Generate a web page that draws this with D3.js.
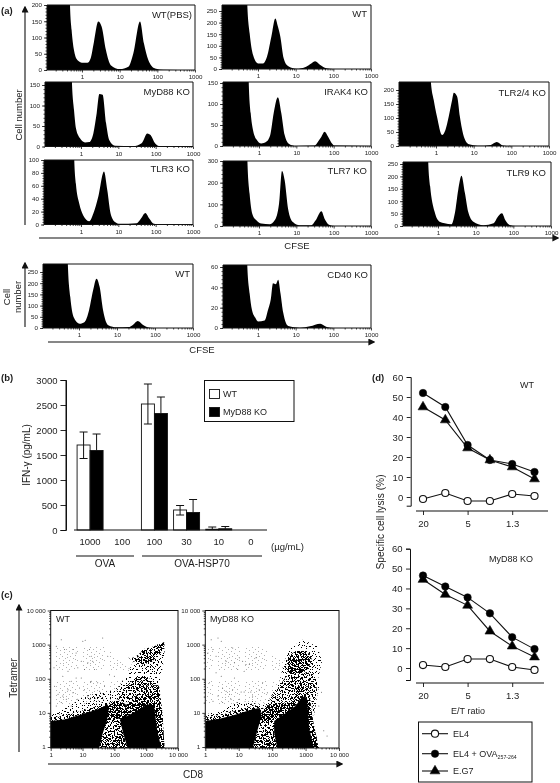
<!DOCTYPE html>
<html><head><meta charset="utf-8">
<script src="https://cdn.jsdelivr.net/npm/d3@7"></script>
<style>html,body{margin:0;padding:0;background:#fff}svg{display:block;filter:blur(0.3px)}text{font-family:"Liberation Sans",Arial,sans-serif;fill:#1c1c1c}</style>
</head><body><div id="c"></div>
<script>
// ---------- DATA: (a) CFSE histograms, [CFSE, cell count]
const histWTPBS=[[0.1,5000],[0.45,400],[0.48,200],[0.53,123],[0.61,62],[0.75,31],[1.08,22],[1.39,22],[1.7,36],[2.08,87],[2.7,149],[3.33,133],[4.3,62],[5.8,15],[10.2,3],[17,10],[23,51],[34.7,149],[44,82],[57.6,31],[87,5],[145,1],[1000,0]];
const histMyD88=[[0.1,5000],[0.53,300],[0.57,160],[0.65,89],[0.73,45],[0.94,20],[1.28,10],[1.67,11],[2.14,32],[2.63,81],[3.1,128],[3.8,126],[4.7,57],[5.7,16],[8.1,2],[25,1],[42,8],[60,32],[73,28],[96,8],[130,1],[1000,0]];
const histTLR3=[[0.1,5000],[0.62,200],[0.66,100],[0.73,63],[0.9,32],[1.15,14],[1.67,5],[2.14,17],[2.9,43],[4.13,82],[5.07,53],[6.2,17],[8.1,4],[11,1],[31,2],[40,9],[53,18],[68,9],[90,1],[130,0],[1000,0]];
const histWT=[[0.1,9000],[0.48,500],[0.52,276],[0.6,154],[0.74,60],[1,24],[1.36,24],[1.73,53],[2.26,139],[2.88,218],[3.39,182],[3.92,139],[4.8,46],[6.25,13],[10.4,1],[19,10],[26,24],[33,33],[45,17],[65,3],[98,0],[1000,0]];
const histIRAK4=[[0.1,5000],[0.5,300],[0.53,154],[0.6,78],[0.69,38],[0.85,16],[1.15,6],[1.57,10],[2,26],[2.47,78],[3.2,116],[3.96,78],[4.87,26],[6.4,5],[10,0],[31,1],[38,10],[47,22],[57,34],[71,22],[87,8],[107,1],[1000,0]];
const histTLR7=[[0.1,9000],[0.45,600],[0.49,296],[0.56,149],[0.66,57],[0.85,26],[1.15,11],[1.93,8],[2.63,26],[3.44,103],[4.13,254],[4.87,211],[6,80],[8.1,18],[12.3,3],[25,3],[33,26],[47,68],[57,34],[75,6],[107,0],[1000,0]];
const histTLR24=[[0.1,9000],[0.65,400],[0.73,230],[0.87,164],[1.06,105],[1.45,39],[1.78,57],[2.18,105],[2.68,164],[2.97,190],[3.65,176],[4.3,105],[5.5,33],[7.5,6],[12.6,1],[28.5,4],[41,14],[59,2],[98,0],[1000,0]];
const histTLR9=[[0.1,9000],[0.5,500],[0.55,259],[0.62,159],[0.81,58],[1.1,17],[1.5,11],[2.28,7],[2.8,51],[3.44,145],[4.2,203],[5.2,132],[6.3,58],[8.7,17],[16,3],[30,11],[38,35],[50,51],[61,24],[80,4],[113,0],[1000,0]];
const histWT2=[[0.1,9000],[0.47,500],[0.51,280],[0.59,138],[0.72,49],[1.04,19],[1.41,27],[1.84,79],[2.35,168],[2.88,220],[3.5,183],[4.3,79],[5.9,12],[9.8,3],[20,4],[27,16],[35,31],[50,12],[75,1],[113,0],[1000,0]];
const histCD40=[[0.1,2000],[0.48,100],[0.52,61],[0.6,34],[0.69,18],[0.85,10],[1,6.5],[1.5,7.5],[1.85,18],[2.18,28],[2.5,44],[2.97,43],[3.44,47.5],[3.96,34],[4.68,15],[6.36,2],[13,0.3],[24,1.6],[45,4.3],[67,1],[102,0],[1000,0]];
const cfseTicks=[1,10,100,1000];

// ---------- DATA: (b) IFN-gamma bars
const doseLabels=["1000","100","100","30","10","0"];
const barSeries=["WT","MyD88 KO"];
const ifnWT=[1700,0,2520,400,15,0];
const ifnKO=[1590,0,2330,350,25,0];
const ifnWTUpper=[1960,null,2920,490,60,null];
const ifnWTLower=[1430,null,2120,300,null,null];
const ifnKOUpper=[1920,null,2660,610,70,null];
const ifnTicks=[0,500,1000,1500,2000,2500,3000];

// ---------- DATA: (c) tetramer / CD8 dot plots: density outlines [CD8, tetramer], and single dots
const dotWTSolid=[[[1,.9],[1,5.8],[2.7,6.4],[9.1,9],[30,12.7],[62,17.6],[66,12],[59,6],[43,2.5],[33,.9]],
 [[262,.9],[182,2.9],[150,6.4],[422,10.5],[1100,18],[1780,16],[2200,3.3],[3000,.9]]];
const dotWTDense=[[[150,6.4],[262,19.8],[537,34.7],[1230,68],[2560,60],[3240,10],[3800,.9],[2560,.9],[1780,12.7],[1100,15.9],[422,9]],
 [[270,410],[537,410],[767,717],[1780,895],[3650,1170],[3800,795],[2560,510],[1400,292],[680,261]],
 [[59,8],[70,19.8],[232,17.6],[182,6.4]]];
const dotWTMid=[[30,.9],[43,3.3],[59,8],[70,19.8],[126,24.7],[232,17.6],[182,6.4],[182,2.9],[262,.9]];
const dotWTMedium=[[[1,4],[1,7.5],[2.7,8],[9.1,11.5],[30,16],[62,22],[72,14],[59,8],[30,10],[9,6],[2.7,5]],
 [[126,24.7],[232,60],[537,120],[1000,120],[2560,60],[1230,68],[537,34.7],[262,19.8]]];
const dotWTLight=[[[62,17.6],[143,60],[295,186],[478,457],[767,645],[2880,1120],[3800,1000],[3650,365],[2560,60],[1230,68],[537,34.7],[262,19.8],[232,17.6],[126,24.7]],
 [[1,5.8],[1,10],[1.7,10],[3.5,15.9],[11.5,31],[38,39],[100,48.5],[143,60],[62,17.6],[30,12.7],[9.1,9],[2.7,6.4]]];
const dotWTFaint=[[[1,5.8],[1,1800],[40,1700],[90,500],[300,190],[143,60],[62,17.6]]];
const dotWTSingle=[[1.5,895],[2.15,1400],[2.7,717],[5,717],[6.3,570],[10.2,1250],[12.1,1340],[43,1570],[16.5,717],[18.7,457],[9.1,325],[14.7,292],[21,325],[2.4,119],[3.5,167],[7.1,209],[11.5,186],[18.7,85],[18,79],[4.4,85],[6.3,106],[9.1,106],[1.7,35],[2.4,31],[3.5,48],[5,39],[8,54],[14.7,31],[16.5,25],[30,76],[49,60],[70,132],[100,119],[62,457],[1.27,209],[2.15,20],[3.1,25],[1.5,16],[7.1,25],[11.5,48],[23.7,186],[34,43],[43,28],[4.4,16],[1.9,9],[1.33,60]];
const dotKOSolid=[[[1,.9],[1,5.8],[2.67,6.7],[8.3,9],[26,12.7],[43,14],[48,8],[36,3],[26,.9]],
 [[144,.9],[115,2.6],[115,5.8],[255,10],[500,16],[800,30],[1100,28],[1300,3.3],[1800,.9]]];
const dotKODense=[[[41,8],[65,16],[161,17.6],[318,22],[566,60],[1260,60],[1580,8],[2490,.9],[1580,.9],[1260,3.3],[1000,20],[633,20],[255,9],[129,5.8],[43,5.8]],
 [[255,186],[305,457],[506,645],[1000,645],[1580,457],[1260,209],[710,132],[358,132]]];
const dotKOMid=[[26,.9],[36,3.3],[43,5.8],[129,5.8],[115,2.6],[144,.9]];
const dotKOMedium=[[[1,4],[1,7.2],[2.67,8.5],[8.3,11.5],[26,16],[43,18],[60,12],[43,8],[26,10],[8.3,6],[2.67,5]],
 [[65,16],[161,60],[300,140],[566,150],[1580,150],[2500,60],[1770,8],[1260,60],[566,60],[318,22],[161,17.6]]];
const dotKOLight=[[[43,14],[81,24.7],[161,76],[227,292],[318,717],[795,1400],[2220,895],[3125,325],[2220,76],[1770,8],[1260,60],[566,60],[318,22],[161,17.6],[65,16]],
 [[1,5.8],[1,9],[2.67,11.3],[8.3,20],[26,22],[43,14],[26,12.7],[8.3,9],[2.67,6.7]]];
const dotKOFaint=[[[1,5.8],[1,1800],[30,1500],[100,500],[230,300],[161,76],[43,14]]];
const dotKOSingle=[[1.5,1400],[2.4,1570],[3,1250],[6.6,795],[1.2,570],[1.7,717],[2.1,457],[4.2,325],[7.4,292],[10.4,410],[13.1,325],[16.5,260],[14.5,167],[9.3,186],[7.4,106],[3.3,54],[4.2,43],[5.3,35],[5.9,25],[11.8,41],[14.5,41],[23,41],[26,31],[41,48],[1.7,22],[2.4,31],[3.3,20],[6.6,48],[72,39],[33,410],[20.7,260],[2.1,149],[1.33,76],[3,119],[10.4,25],[52,76],[2490,16],[3500,3],[4400,2.1],[3000,40]];
const cd8Ticks=[1,10,100,1000,10000];

// ---------- DATA: (d) specific lysis
const etRatios=["20","","5","","1.3",""];
const lysisSeries=["EL4","EL4 + OVA","E.G7"];
const wtEL4=[-1,2,-2,-2,1.5,0.5];
const wtOVA=[52,45,26,18.5,16.5,12.5];
const wtEG7=[45,38.5,24.5,18.5,15,9];
const koEL4=[1.5,0.5,4.5,4.5,0.5,-1];
const koOVA=[46.5,41,35.5,27.5,15.5,9.5];
const koEG7=[44.5,37,31.5,18.5,11,5.5];
const lysisTicks=[0,10,20,30,40,50,60];

// ---------- LAYOUT
const histPanels=[
 {label:"WT(PBS)",data:histWTPBS,l:47,r:195,t:5,b:70,x1:82,tick:[0,50,100,150,200],topPx:5,lx:192,ly:14},
 {label:"MyD88 KO",data:histMyD88,l:45,r:193,t:82,b:146.5,x1:81,tick:[0,50,100,150],topPx:85,lx:190,ly:91},
 {label:"TLR3 KO",data:histTLR3,l:44,r:193,t:160,b:224.5,x1:81,tick:[0,20,40,60,80,100],topPx:160,lx:190,ly:168},
 {label:"WT",data:histWT,l:222,r:371,t:5,b:69,x1:258,tick:[0,50,100,150,200,250],topPx:11,lx:367,ly:13},
 {label:"IRAK4 KO",data:histIRAK4,l:223,r:371,t:82,b:146,x1:259,tick:[0,50,100,150],topPx:83,lx:368,ly:91},
 {label:"TLR7 KO",data:histTLR7,l:223,r:371,t:161,b:226,x1:259,tick:[0,100,200,300],topPx:161,lx:367,ly:170},
 {label:"TLR2/4 KO",data:histTLR24,l:399,r:549,t:82,b:146,x1:436,tick:[0,50,100,150,200],topPx:90,lx:546,ly:92},
 {label:"TLR9 KO",data:histTLR9,l:403,r:551,t:162,b:226,x1:438,tick:[0,50,100,150,200,250],topPx:164,lx:546,ly:172},
 {label:"WT",data:histWT2,l:43,r:193,t:264,b:328,x1:79,tick:[0,50,100,150,200,250],topPx:272,lx:190,ly:273},
 {label:"CD40 KO",data:histCD40,l:223,r:371,t:265,b:328,x1:258,tick:[0,20,40,60],topPx:267,lx:368,ly:274}
];
const INK="#111";
const svg=d3.select("#c").append("svg").attr("width",560).attr("height",783).attr("viewBox","0 0 560 783");
svg.append("rect").attr("width",560).attr("height",783).attr("fill","#fff");
const defs=svg.append("defs");
defs.append("marker").attr("id","arrow").attr("viewBox","0 0 10 10").attr("refX",8).attr("refY",5)
 .attr("markerUnits","userSpaceOnUse").attr("markerWidth",7).attr("markerHeight",7).attr("orient","auto")
 .append("path").attr("d","M0,0L10,5L0,10Z").attr("fill",INK);

function txt(x,y,s,o={}){
 const t=svg.append("text").attr("x",x).attr("y",y).attr("dominant-baseline","central")
  .attr("font-size",o.fs||9.5).attr("text-anchor",o.a||"middle").text(s);
 if(o.bold)t.attr("font-weight","bold");
 if(o.rot)t.attr("transform",`rotate(-90 ${x} ${y})`);
 return t;
}
function arrow(x1,y1,x2,y2){svg.append("line").attr("x1",x1).attr("y1",y1).attr("x2",x2).attr("y2",y2)
 .attr("stroke",INK).attr("stroke-width",1.1).attr("marker-end","url(#arrow)");}
function hline(x1,x2,y,w=1.1){svg.append("line").attr("x1",x1).attr("x2",x2).attr("y1",y).attr("y2",y).attr("stroke",INK).attr("stroke-width",w);}
function styleAxis(g,fs){g.selectAll("path.domain").remove();g.selectAll("line").attr("stroke",INK).attr("stroke-width",.8);
 g.selectAll("text").attr("font-size",fs).attr("font-family",null).attr("fill","#1c1c1c");}

// ---------- (a) histograms
const logMinor=[.2,.3,.4,.5,.6,.7,.8,.9,2,3,4,5,6,7,8,9,20,30,40,50,60,70,80,90,200,300,400,500,600,700,800,900];
histPanels.forEach((p,i)=>{
 const maxTick=p.tick[p.tick.length-1];
 const x=d3.scaleLog().domain([1,1000]).range([p.x1,p.r]);
 const y=d3.scaleLinear().domain([0,maxTick]).range([p.b,p.topPx]);
 const id="hc"+i;
 defs.append("clipPath").attr("id",id).append("rect").attr("x",p.l).attr("y",p.t).attr("width",p.r-p.l).attr("height",p.b-p.t);
 const area=d3.area().x(d=>x(d[0])).y0(y(0)).y1(d=>y(d[1])).curve(d3.curveMonotoneX);
 svg.append("path").datum(p.data).attr("d",area).attr("fill","#000").attr("clip-path",`url(#${id})`);
 svg.append("path").attr("d",`M${p.l},${p.b}V${p.t}H${p.r}V${p.b}`).attr("fill","none").attr("stroke",INK).attr("stroke-width",1);
 hline(p.l,p.r,p.b,1);
 const gx=svg.append("g").attr("transform",`translate(0,${p.b})`)
  .call(d3.axisBottom(x).tickValues(cfseTicks).tickSize(2.5).tickPadding(2.5).tickFormat(d3.format("d")));
 styleAxis(gx,6.2);
 const gm=svg.append("g").attr("transform",`translate(0,${p.b})`)
  .call(d3.axisBottom(x).tickValues(logMinor.filter(v=>x(v)>p.l)).tickSize(1.5).tickFormat(""));
 styleAxis(gm,6.2);
 const gy=svg.append("g").attr("transform",`translate(${p.l},0)`)
  .call(d3.axisLeft(y).tickValues(p.tick).tickSize(3).tickPadding(2).tickFormat(d3.format("d")));
 styleAxis(gy,6.2);
 const step=(p.tick[1]-p.tick[0])/5;
 const gy2=svg.append("g").attr("transform",`translate(${p.l},0)`)
  .call(d3.axisLeft(y).tickValues(d3.range(0,maxTick+step/2,step)).tickSize(1.5).tickFormat(""));
 styleAxis(gy2,6.2);
 txt(p.lx,p.ly,p.label,{a:"end",fs:9.5});
});
txt(1,10,"(a)",{a:"start",bold:true,fs:9.5});
arrow(25,225,25,7);
txt(18,115,"Cell number",{rot:true,fs:9.5});
arrow(39,238,558,238);
txt(297,245.5,"CFSE",{fs:9.5});
arrow(25,327,25,263);
txt(6,297,"Cell",{rot:true,fs:9.5});
txt(17,297,"number",{rot:true,fs:9.5});
arrow(48,342,374,342);
txt(202,349.5,"CFSE",{fs:9.5});

// ---------- (b) bars
txt(1,377,"(b)",{a:"start",bold:true,fs:9.5});
const yB=d3.scaleLinear().domain([0,3000]).range([530,380]);
const x0=d3.scaleBand().domain(d3.range(doseLabels.length)).range([74,267]);
const x1=d3.scaleBand().domain(barSeries).range([x0.bandwidth()/2-13,x0.bandwidth()/2+13]);
const seriesVals={"WT":ifnWT,"MyD88 KO":ifnKO};
barSeries.forEach(s=>{
 svg.append("g").selectAll("rect").data(seriesVals[s]).join("rect")
  .attr("x",(d,i)=>x0(i)+x1(s)).attr("width",x1.bandwidth())
  .attr("y",d=>yB(d)).attr("height",d=>yB(0)-yB(d))
  .attr("fill",s==="WT"?"#fff":"#000").attr("stroke",d=>d>0?INK:"none").attr("stroke-width",.9);
});
function errBar(vals,from,s){
 vals.forEach((v,i)=>{ if(v==null)return;
  const cx=x0(i)+x1(s)+x1.bandwidth()/2;
  svg.append("line").attr("x1",cx).attr("x2",cx).attr("y1",yB(from[i])).attr("y2",yB(v)).attr("stroke",INK).attr("stroke-width",1);
  svg.append("line").attr("x1",cx-4).attr("x2",cx+4).attr("y1",yB(v)).attr("y2",yB(v)).attr("stroke",INK).attr("stroke-width",1);
 });
}
errBar(ifnWTUpper,ifnWT,"WT");errBar(ifnWTLower,ifnWT,"WT");errBar(ifnKOUpper,ifnKO,"MyD88 KO");
const gyB=svg.append("g").attr("transform","translate(66,0)").call(d3.axisLeft(yB).tickValues(ifnTicks).tickSize(5.5).tickPadding(3));
gyB.call(g=>g.selectAll("text").text(d=>d));
gyB.selectAll("path.domain").attr("stroke",INK);
gyB.selectAll("line").attr("stroke",INK).attr("stroke-width",.9);
gyB.selectAll("text").attr("font-size",9.5).attr("font-family",null);
svg.append("line").attr("x1",66).attr("x2",66).attr("y1",380).attr("y2",530).attr("stroke",INK).attr("stroke-width",1);
hline(74,267,530,1);
const gxB=svg.append("g").attr("transform","translate(0,530)")
 .call(d3.axisBottom(x0).tickSize(0).tickPadding(8).tickFormat(i=>doseLabels[i]));
gxB.selectAll("path.domain").remove();
gxB.selectAll("text").attr("font-size",9.5).attr("font-family",null);
txt(271,546,"(µg/mL)",{a:"start",fs:9.5});
hline(76,134,556);hline(142,262,556);
txt(105,563.5,"OVA",{fs:10});txt(202,563.5,"OVA-HSP70",{fs:10});
txt(26,455,"IFN-γ (pg/mL)",{rot:true,fs:10});
svg.append("rect").attr("x",204.5).attr("y",380.5).attr("width",89.5).attr("height",41).attr("fill","#fff").attr("stroke",INK).attr("stroke-width",1);
barSeries.forEach((s,i)=>{
 svg.append("rect").attr("x",209.5).attr("y",389.5+18*i).attr("width",10).attr("height",9)
  .attr("fill",i?"#000":"#fff").attr("stroke",INK).attr("stroke-width",.9);
 txt(223,394+18*i,s,{a:"start",fs:9});
});

// ---------- (c) dot plots
txt(1,594,"(c)",{a:"start",bold:true,fs:9.5});
// stipple textures (style only): one hand-placed tile, repeated at unrelated periods and mirrored so that layers do not line up
const tileDots=[[1,2],[5,1],[9,3],[14,1],[19,2],[22,4],[3,5],[7,6],[12,5],[16,6],[20,7],[1,9],[5,9],[10,8],[14,9],[18,10],[23,9],[3,12],[8,11],[12,13],[16,12],[21,12],[1,15],[6,14],[10,16],[14,15],[19,15],[23,16],[4,18],[8,18],[12,19],[17,18],[21,19],[2,21],[6,22],[10,22],[15,22],[19,22],[23,21],[13,3],[11,11],[17,15]];
const tilePeriods=[[25,26],[27,25],[29,31],[31,26],[26,33],[33,29],[35,27],[37,31],[28,35],[39,29],[32,37],[41,27],[30,39],[43,33],[34,41],[38,43],[26,29],[29,27],[31,35],[35,31],[27,34],[34,28],[25,30],[30,25],[28,32],[32,28]];
const tileVariant=[d=>d,d=>[d[1],d[0]],d=>[24-d[0],d[1]],d=>[d[0],24-d[1]],d=>[24-d[1],d[0]],d=>[d[1],24-d[0]],d=>[24-d[0],24-d[1]],d=>[24-d[1],24-d[0]]];
tilePeriods.forEach((pd,i)=>{
 const pat=defs.append("pattern").attr("id","st"+i).attr("width",pd[0]).attr("height",pd[1]).attr("patternUnits","userSpaceOnUse");
 pat.selectAll("rect").data(tileDots.map(tileVariant[i%tileVariant.length])).join("rect")
  .attr("x",d=>d[0]).attr("y",d=>d[1]).attr("width",1).attr("height",1).attr("fill","#000");
});
const dotPanels=[
 {label:"WT",solid:dotWTSolid,dense:dotWTDense,mid:dotWTMid,medium:dotWTMedium,light:dotWTLight,faint:dotWTFaint,single:dotWTSingle,x1:50.7,x4:178,lx:56},
 {label:"MyD88 KO",solid:dotKOSolid,dense:dotKODense,mid:dotKOMid,medium:dotKOMedium,light:dotKOLight,faint:dotKOFaint,single:dotKOSingle,x1:205.3,x4:339,lx:210}
];
dotPanels.forEach((p,i)=>{
 const x=d3.scaleLog().domain([1,10000]).range([p.x1,p.x4]);
 const y=d3.scaleLog().domain([1,10000]).range([747,610.5]);
 const id="dc"+i;
 defs.append("clipPath").attr("id",id).append("rect").attr("x",p.x1).attr("y",610.5).attr("width",p.x4-p.x1).attr("height",137.5);
 const g=svg.append("g").attr("clip-path",`url(#${id})`);
 const line=d3.line().x(d=>x(d[0])).y(d=>y(d[1])).curve(d3.curveLinearClosed);
 const paint=(polys,from,n,op=1)=>polys.forEach(poly=>{for(let k=from;k<from+n;k++)g.append("path").datum(poly).attr("d",line).attr("fill",`url(#st${k%tilePeriods.length})`).attr("opacity",op);});
 paint(p.faint,20,1,.3);
 paint(p.light,0,3);paint(p.medium,4,8);paint([p.mid],4,16);paint(p.dense,0,20);
 p.solid.forEach(poly=>g.append("path").datum(poly).attr("d",line).attr("fill","#000"));
 g.selectAll("circle").data(p.single).join("circle").attr("cx",d=>x(d[0])).attr("cy",d=>y(d[1])).attr("r",.5).attr("fill","#555");
 svg.append("rect").attr("x",p.x1).attr("y",610.5).attr("width",p.x4-p.x1).attr("height",137.5).attr("fill","none").attr("stroke",INK).attr("stroke-width",1);
 const fmt=v=>v===10000?"10 000":String(v);
 const majorMinor=d3.merge(d3.range(0,4).map(e=>[2,3,4,5,6,7,8,9].map(m=>m*Math.pow(10,e))));
 const ax=svg.append("g").attr("transform","translate(0,748)").call(d3.axisBottom(x).tickValues(cd8Ticks).tickSize(3).tickPadding(2).tickFormat(fmt));
 styleAxis(ax,6.2);
 styleAxis(svg.append("g").attr("transform","translate(0,748)").call(d3.axisBottom(x).tickValues(majorMinor).tickSize(1.5).tickFormat("")),6);
 const ay=svg.append("g").attr("transform",`translate(${p.x1},0)`).call(d3.axisLeft(y).tickValues(cd8Ticks).tickSize(3).tickPadding(2).tickFormat(fmt));
 styleAxis(ay,6.2);
 styleAxis(svg.append("g").attr("transform",`translate(${p.x1},0)`).call(d3.axisLeft(y).tickValues(majorMinor).tickSize(1.5).tickFormat("")),6);
 txt(p.lx,618.5,p.label,{a:"start",fs:9});
});
arrow(19,752,19,605);
txt(13,678,"Tetramer",{rot:true,fs:10});
arrow(48,764,342,764);
txt(193,774,"CD8",{fs:10});

// ---------- (d) lysis
txt(372,377,"(d)",{a:"start",bold:true,fs:9.5});
txt(380.5,522,"Specific cell lysis (%)",{rot:true,fs:10.2});
const lysisPanels=[
 {label:"WT",lx:527,ly:385,series:[wtEL4,wtOVA,wtEG7],y0:497,y60:377,yEnd:505.7,xAxisY:511,xEnd:548,axX:410.7},
 {label:"MyD88 KO",lx:511,ly:559,series:[koEL4,koOVA,koEG7],y0:668,y60:548.7,yEnd:680,xAxisY:683,xEnd:544,axX:410}
];
function marker(sel,k){
 if(k===2)sel.attr("d",d3.symbol(d3.symbolTriangle,42)()).attr("fill","#000").attr("stroke",INK).attr("stroke-width",.6);
 else sel.attr("d",d3.symbol(d3.symbolCircle,k?44:40)()).attr("fill",k?"#000":"#fff").attr("stroke",INK).attr("stroke-width",k?.5:1.1);
}
lysisPanels.forEach(p=>{
 const x=d3.scalePoint().domain(d3.range(etRatios.length)).range([423,534.5]);
 const y=d3.scaleLinear().domain([0,60]).range([p.y0,p.y60]);
 const yv=d3.scaleLinear().domain([y.invert(p.yEnd),60]).range([p.yEnd,p.y60]);
 const gy=svg.append("g").attr("transform",`translate(${p.axX},0)`).call(d3.axisLeft(yv).tickValues(lysisTicks).tickSize(4).tickPadding(3.5));
 gy.selectAll("path.domain").attr("stroke",INK).attr("stroke-width",1);
 gy.selectAll("line").attr("stroke",INK).attr("stroke-width",.9);
 gy.selectAll("text").attr("font-size",9.5).attr("font-family",null);
 hline(416,p.xEnd,p.xAxisY,1.1);
 const gx=svg.append("g").attr("transform",`translate(0,${p.xAxisY})`)
  .call(d3.axisBottom(x).tickValues([0,2,4]).tickSize(4).tickPadding(5).tickFormat(i=>etRatios[i]));
 gx.selectAll("path.domain").remove();
 gx.selectAll("line").attr("stroke",INK).attr("stroke-width",.9);
 gx.selectAll("text").attr("font-size",9.5).attr("font-family",null);
 const ln=d3.line().x((d,i)=>x(i)).y(d=>y(d));
 [1,2,0].forEach(k=>{
  svg.append("path").datum(p.series[k]).attr("d",ln).attr("fill","none").attr("stroke",INK).attr("stroke-width",1.1);
 });
 [1,2,0].forEach(k=>{
  svg.append("g").selectAll("path").data(p.series[k]).join("path")
   .attr("transform",(d,i)=>`translate(${x(i)},${y(d)})`).call(marker,k);
 });
 txt(p.lx,p.ly,p.label,{fs:9});
});
txt(468,711,"E/T ratio",{fs:9});
svg.append("rect").attr("x",418.5).attr("y",722).attr("width",113.5).attr("height",60).attr("fill","#fff").attr("stroke",INK).attr("stroke-width",1);
[733.7,753.7,771].forEach((ly,k)=>{
 hline(422,448,ly,1.1);
 svg.append("path").attr("transform",`translate(435,${ly})`).call(marker,k);
 const t=txt(453,ly,lysisSeries[k],{a:"start",fs:9});
 if(k===1)t.append("tspan").attr("dy",3).attr("font-size",5.2).text("257-264");
});
</script></body></html>
